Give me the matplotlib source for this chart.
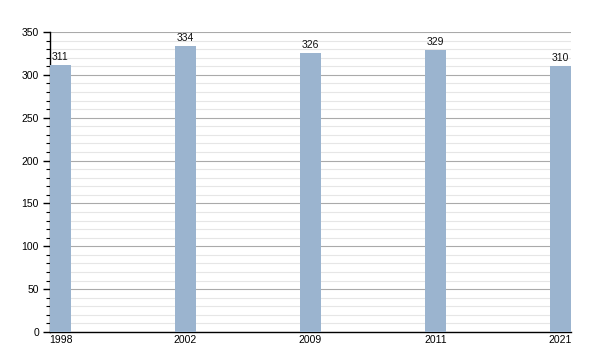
import matplotlib
matplotlib.use("Agg")
from matplotlib import pyplot as plt
from matplotlib.ticker import MultipleLocator

years = ["1998", "2002", "2009", "2011", "2021"]
values = [311, 334, 326, 329, 310]

plt.rcParams['font.family'] = ['Liberation Sans', 'DejaVu Sans']

fig = plt.figure(figsize=(6, 3.5), dpi=100)
ax = fig.add_axes([50/600, 18/350, 521/600, 300/350])

x = list(range(len(years)))
w = 0.168
ax.bar(x, values, width=w, color='#9bb4cf', zorder=3)
for i, v in zip(x, values):
    ax.text(i, v + 3.5, str(v), ha='center', va='bottom', fontsize=7.5, color='#111111', zorder=4)

ax.set_xlim(-w/2, len(years) - 1 + w/2)
ax.set_ylim(0, 350)
ax.set_xticks(x)
ax.set_xticklabels(years)
ax.yaxis.set_major_locator(MultipleLocator(50))
ax.yaxis.set_minor_locator(MultipleLocator(10))
ax.tick_params(axis='x', length=0, labelsize=7.5, pad=2)
ax.tick_params(axis='y', which='major', length=5, width=1, labelsize=7.5, pad=3)
ax.tick_params(axis='y', which='minor', length=3, width=0.8)

ax.grid(axis='y', which='major', color='#aaaaaa', linewidth=0.8, zorder=0)
ax.grid(axis='y', which='minor', color='#e6e6e6', linewidth=0.8, zorder=0)

for s in ['top', 'right']:
    ax.spines[s].set_visible(False)
ax.spines['left'].set_linewidth(1)
ax.spines['bottom'].set_linewidth(1)

fig.savefig('out.png', dpi=100)
